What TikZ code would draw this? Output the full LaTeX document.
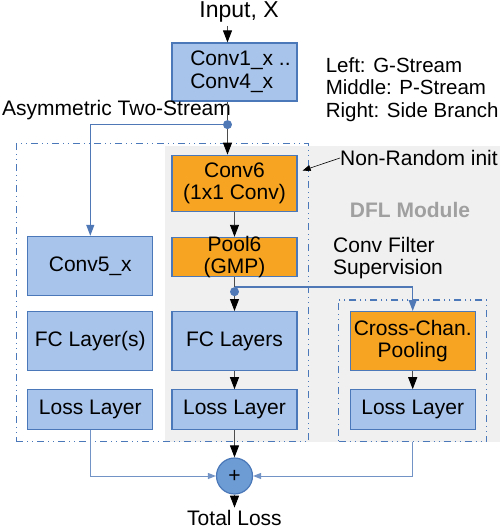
\documentclass[tikz,border=0pt]{standalone}
\usepackage{fontspec}
\setmainfont{Liberation Sans}
\usepackage{xcolor}
\usepackage{tikz}
\usetikzlibrary{arrows.meta, positioning, calc, fit, backgrounds}
\definecolor{boxblue}{HTML}{A9C4EA}
\definecolor{boxline}{HTML}{4A78B8}
\definecolor{dflorange}{HTML}{F6A421}
\definecolor{linkblue}{HTML}{4F78B6}
\definecolor{sumblue}{HTML}{6D9BD3}
\definecolor{bggray}{HTML}{F0F0F0}
\definecolor{labelgray}{HTML}{A0A0A0}
\tikzstyle{layer} = [rectangle, minimum width=125pt, text centered, align=center, draw=boxline, line width=1.2pt, fill=boxblue]
\tikzstyle{dfllayer} = [layer, fill=dflorange]
\tikzstyle{group} = [draw=boxline, line width=1.2pt, dash pattern=on 7pt off 4pt on 1pt off 4pt on 1pt off 4pt, inner sep=11pt]
\tikzstyle{plain} = [draw=black!70, line width=0.9pt]
\tikzstyle{arrow} = [plain, -{Triangle[length=12pt,width=9pt,color=black]}]
\tikzstyle{bluearrow} = [draw=linkblue, line width=1.2pt, -{Triangle[length=11pt,width=8pt]}]
\tikzstyle{sumarrow} = [draw=linkblue!80, line width=1pt, -{Triangle[length=8pt,width=6pt]}]
\tikzstyle{joint} = [circle, fill=linkblue, inner sep=0pt, minimum size=9pt]

\begin{document}
\begin{tikzpicture}[x=1pt, y=-1pt, font=\fontsize{21}{22.5}\selectfont]
    \useasboundingbox (0,0) rectangle (500,532);

    % Shared layers
    \node (conv14) [layer, minimum height=58pt, align=left] at (234.5,72) {\hspace*{12pt}Conv1\_x ..\\\hspace*{12pt}Conv4\_x};
    \node (input) [font=\fontsize{23}{25}\selectfont] at (239,12) {Input, X};
    \node (legend) [right=28pt of conv14, yshift=-17.5pt, align=left, inner sep=0pt, font=\fontsize{20.5}{22.5}\selectfont] {Left: G-Stream\\Middle: P-Stream\\Right: Side Branch};
    \node (asym) [anchor=west, inner sep=0pt] at (2,110) {Asymmetric Two-Stream};

    % P-Stream (middle)
    \node (conv6) [dfllayer, below=53pt of conv14, minimum height=56pt] {Conv6\\(1x1 Conv)};
    \node (pool6) [dfllayer, below=25pt of conv6, minimum height=39pt, label={[align=center]center:Pool6\\(GMP)}] {};
    \node (fcmid) [layer, below=34pt of pool6, minimum height=59pt] {FC Layers};
    \node (lossmid) [layer, below=18pt of fcmid, minimum height=40pt] {Loss Layer};

    % G-Stream (left)
    \node (fcleft) [layer, left=18pt of fcmid, minimum height=59pt] {FC Layer(s)};
    \node (conv5) [layer, above=15pt of fcleft, minimum height=59pt] {Conv5\_x};
    \node (lossleft) [layer, below=18pt of fcleft, minimum height=40pt] {Loss Layer};

    % Side branch (right)
    \node (ccp) [dfllayer, right=52pt of fcmid, minimum height=59pt] {Cross-Chan.\\Pooling};
    \node (lossright) [layer, below=18pt of ccp, minimum height=40pt] {Loss Layer};

    % Groups
    \node (twostream) [group, fit=(conv5)(conv6)(lossleft)(lossmid)] {};
    \node (side) [group, fit=(ccp)(lossright)] {};
    \begin{scope}[on background layer]
        \fill [bggray] (165,146) rectangle (500,442);
    \end{scope}

    % Annotations
    \node (nonrandom) [anchor=west, inner sep=0pt] at (340,158) {Non-Random init};
    \node (dfl) [font=\fontsize{21}{22.5}\selectfont\bfseries, text=labelgray] at (410,210) {DFL Module};
    \node (cfs) [anchor=west, inner sep=0pt, align=left] at (333,258) {Conv Filter\\Supervision};

    % Sum
    \node (sum) [circle, draw=boxline, line width=1.2pt, fill=sumblue, minimum size=36pt, inner sep=0pt, below=27pt of lossmid] {+};
    \node (total) [below=15pt of sum, inner sep=0pt] {Total Loss};

    % Arrows
    \coordinate (split) at ($(conv14.south)+(-7,23)$);
    \node (dot1) [joint] at (split) {};
    \draw [arrow] (input.south -| dot1) -- (conv14.north -| dot1);
    \draw [plain] (conv14.south -| dot1) -- (dot1);
    \draw [arrow] (dot1) -- (conv6.north -| dot1);
    \draw [bluearrow] (dot1) -| (conv5.north);
    \draw [arrow] (conv6) -- (pool6);
    \node (dot2) [joint, below=10pt of pool6] {};
    \draw [plain] (pool6) -- (dot2);
    \draw [arrow] (dot2) -- (fcmid);
    \draw [bluearrow] (dot2.north) -| (ccp.north);
    \draw [arrow] (fcmid) -- (lossmid);
    \draw [arrow] (ccp) -- (lossright);
    \draw [arrow] (lossmid) -- (sum);
    \draw [arrow, shorten >=2pt] (sum) -- (total);
    \draw [sumarrow] (lossleft.south) |- (sum.west);
    \draw [sumarrow] (side.south) |- (sum.east);
    \draw [-{Triangle[length=8pt,width=6pt]}, line width=0.6pt] (nonrandom.west) -- ($(conv6.north east)+(5,16)$);
\end{tikzpicture}
\end{document}
